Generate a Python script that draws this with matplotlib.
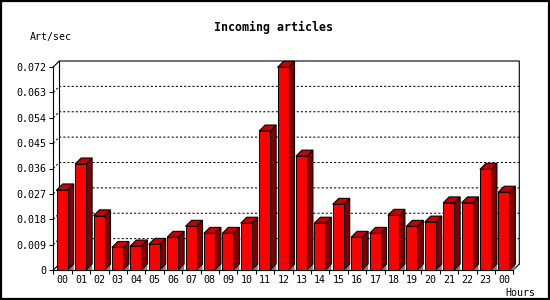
import matplotlib
matplotlib.use("Agg")
import matplotlib.pyplot as plt
from matplotlib.patches import Polygon, Rectangle

# datos
hours = ["00", "01", "02", "03", "04", "05", "06", "07", "08", "09", "10", "11",
         "12", "13", "14", "15", "16", "17", "18", "19", "20", "21", "22", "23", "00"]
values = [0.0284, 0.0376, 0.0192, 0.0080, 0.0085, 0.0091, 0.0116, 0.0155, 0.0130,
          0.0130, 0.0166, 0.0493, 0.0719, 0.0404, 0.0166, 0.0233, 0.0116, 0.0130,
          0.0194, 0.0155, 0.0170, 0.0238, 0.0238, 0.0357, 0.0276]
yticks = [0, 0.009, 0.018, 0.027, 0.036, 0.045, 0.054, 0.063, 0.072]
ytick_labels = ["0", "0.009", "0.018", "0.027", "0.036", "0.045", "0.054", "0.063", "0.072"]

W, H = 550, 300
mono = "DejaVu Sans Mono"

fig = plt.figure(figsize=(W / 100, H / 100), dpi=100)
fig.patch.set_facecolor("white")
# marco negro de la imagen
fig.add_artist(Rectangle((0.001, 0.002), 0.997, 0.995, transform=fig.transFigure,
                         fill=False, ec="black", lw=1.6))

ax = fig.add_axes([53.3 / W, 30 / H, 460 / W, 203 / H])
n = len(values)
ymax = 0.072
ax.set_xlim(0, n)
ax.set_ylim(0, ymax)

# profundidad 3D (unos 6 px)
dx = 6 / (460 / n)
dy = 6 / (203 / ymax)

# pared del fondo y lineas punteadas
for v in yticks[1:-1]:
    ax.plot([0, dx, n + dx], [v, v + dy, v + dy], color="black", lw=0.75,
            linestyle=(0, (2, 2)), zorder=1, clip_on=False)
kw = dict(color="black", lw=0.8, zorder=1, clip_on=False)
ax.plot([dx, dx], [dy, ymax + dy], **kw)
ax.plot([0, dx, n + dx, n + dx], [ymax, ymax + dy, ymax + dy, dy], **kw)
ax.plot([0, dx], [0, dy], **kw)
ax.plot([n, n + dx], [0, dy], **kw)

# barras 3D
bw = 0.6
off = 0.185
for i, h in enumerate(values):
    x0 = i + off
    x1 = x0 + bw
    ax.add_patch(Polygon([(x1, 0), (x1 + dx, dy), (x1 + dx, 0)], closed=True,
                         fc="#808080", ec="none", zorder=2, clip_on=False))
    ax.add_patch(Polygon([(x1, 0), (x1, h), (x1 + dx, h + dy), (x1 + dx, dy)], closed=True,
                         fc="#800000", ec="black", lw=0.75, zorder=3, clip_on=False))
    ax.add_patch(Polygon([(x0, h), (x0 + dx, h + dy), (x1 + dx, h + dy), (x1, h)], closed=True,
                         fc="#C40000", ec="black", lw=0.75, zorder=3, clip_on=False))
    ax.add_patch(Rectangle((x0, 0), bw, h, fc="#FF0000", ec="black", lw=0.75,
                           zorder=4, clip_on=False))

# ejes
for s in ["top", "right"]:
    ax.spines[s].set_visible(False)
for s in ["left", "bottom"]:
    ax.spines[s].set_linewidth(0.8)
    ax.spines[s].set_zorder(5)
ax.set_facecolor("none")

ax.set_yticks(yticks)
ax.set_yticklabels(ytick_labels, fontfamily=mono, fontsize=7.2)
ax.set_xticks(range(n + 1))
ax.set_xticklabels([])
ax.set_xticks([i + 0.5 for i in range(n)], minor=True)
ax.set_xticklabels(hours, minor=True, fontfamily=mono, fontsize=7.2)
ax.tick_params(axis="both", which="major", direction="out", length=3, width=0.8, pad=2)
ax.tick_params(axis="x", which="minor", length=0, pad=3.5)

# textos
fig.text(273.5 / W, 1 - 27 / H, "Incoming articles", ha="center", va="center",
         fontfamily=mono, fontweight="bold", fontsize=8.4)
fig.text(30 / W, 1 - 37 / H, "Art/sec", ha="left", va="center", fontfamily=mono, fontsize=7.2)
fig.text(505 / W, 1 - 292.5 / H, "Hours", ha="left", va="center", fontfamily=mono, fontsize=7.2)

fig.savefig("out.png", dpi=100)
